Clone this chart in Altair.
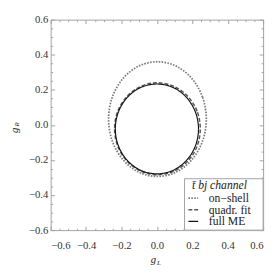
import altair as alt
import pandas as pd

# ---- data ----
series_names = ["on−shell", "quadr. fit", "full ME"]

onshell_gL = [0.279, 0.258, 0.198, 0.109, 0.003, -0.103, -0.192, -0.252,
              -0.273, -0.252, -0.192, -0.103, 0.003, 0.109, 0.198, 0.258]
onshell_gR = [0.033, 0.158, 0.264, 0.335, 0.360, 0.335, 0.264, 0.158,
              0.033, -0.092, -0.198, -0.269, -0.294, -0.269, -0.198, -0.092]

quadr_gL = [0.245, 0.227, 0.174, 0.096, 0.003, -0.090, -0.168, -0.221,
            -0.239, -0.221, -0.168, -0.090, 0.003, 0.096, 0.174, 0.227]
quadr_gR = [-0.022, 0.078, 0.163, 0.220, 0.240, 0.220, 0.163, 0.078,
            -0.022, -0.122, -0.207, -0.264, -0.284, -0.264, -0.207, -0.122]

full_gL = [0.235, 0.217, 0.166, 0.090, 0.000, -0.090, -0.166, -0.217,
           -0.235, -0.217, -0.166, -0.090, 0.000, 0.090, 0.166, 0.217]
full_gR = [-0.023, 0.075, 0.158, 0.214, 0.233, 0.214, 0.158, 0.075,
           -0.023, -0.121, -0.204, -0.260, -0.279, -0.260, -0.204, -0.121]

major_ticks = [-0.6, -0.4, -0.2, 0.0, 0.2, 0.4, 0.6]
minor_ticks = [-0.55, -0.5, -0.45, -0.35, -0.3, -0.25, -0.15, -0.1, -0.05,
               0.05, 0.1, 0.15, 0.25, 0.3, 0.35, 0.45, 0.5, 0.55]

rows = []
for name, xs_, ys_ in [(series_names[0], onshell_gL, onshell_gR),
                       (series_names[1], quadr_gL, quadr_gR),
                       (series_names[2], full_gL, full_gR)]:
    for i, (a, b) in enumerate(zip(xs_, ys_)):
        rows.append({"series": name, "style": name, "gL": a, "gR": b, "i": i})
df = pd.DataFrame(rows)

FONT = "Times New Roman, Liberation Serif, serif"
FRAME = "#a0a0a0"
dom = [-0.6, 0.6]

xs = alt.Scale(domain=dom, nice=False, zero=False)
ys = alt.Scale(domain=dom, nice=False, zero=False)

def ax(orient, values, size, labels, pad=4):
    kw = dict(orient=orient, values=values, tickSize=size, offset=-size,
              domain=False, grid=False, tickColor=FRAME, title=None,
              labels=labels)
    if labels:
        kw.update(format=".1f", labelFont=FONT, labelFontSize=11,
                  labelColor="#333333", labelPadding=pad)
    return alt.Axis(**kw)

leg = alt.Legend(zindex=2, title="t̄ bj channel")

curves = alt.Chart(df).mark_line(interpolate="cardinal-closed").encode(
    x=alt.X("gL:Q", scale=xs, axis=ax("bottom", major_ticks, 4, True, 10)),
    y=alt.Y("gR:Q", scale=ys, axis=ax("left", major_ticks, 4, True, 3)),
    color=alt.Color("series:N",
                    scale=alt.Scale(domain=series_names,
                                    range=["#7a7a7a", "#555555", "#151515"]),
                    sort=series_names, legend=leg),
    strokeDash=alt.StrokeDash("series:N",
                              scale=alt.Scale(domain=series_names,
                                              range=[[1.6, 1.4], [4, 2], [1, 0]]),
                              sort=series_names, legend=leg),
    strokeWidth=alt.StrokeWidth("style:N",
                                scale=alt.Scale(domain=series_names,
                                                range=[1.8, 1.2, 1.0]),
                                legend=None),
    detail="series:N",
    order="i:Q",
)

def tick_layer(xo, yo, vals, size):
    return alt.Chart(df).mark_point(opacity=0).encode(
        x=alt.X("gL:Q", scale=xs, axis=ax(xo, vals, size, False)),
        y=alt.Y("gR:Q", scale=ys, axis=ax(yo, vals, size, False)),
    )

lab = pd.DataFrame({"k": [0]})
def txt(s, x, y, size, angle=0):
    return alt.Chart(lab).mark_text(text=s, font=FONT, fontSize=size,
                                    fontStyle="italic", color="#222222",
                                    angle=angle).encode(
        x=alt.value(x), y=alt.value(y))

legend_box = alt.Chart(lab).mark_rect(fill="white", stroke=FRAME, strokeWidth=1).encode(
    x=alt.value(138), x2=alt.value(219), y=alt.value(164), y2=alt.value(217))

chart = alt.layer(
    legend_box,
    curves,
    tick_layer("bottom", "left", minor_ticks, 2),
    tick_layer("top", "right", major_ticks, 4),
    tick_layer("top", "right", minor_ticks, 2),
    txt("g", 106, 248, 11),
    txt("L", 111.5, 251, 7),
    txt("g", -37, 114, 11, 270),
    txt("R", -35, 108, 7, 270),
).resolve_axis(x="independent", y="independent").properties(
    width=219, height=217,
    autosize=alt.AutoSizeParams(type="none"),
    padding={"left": 44, "top": 8, "right": 4, "bottom": 34},
).configure_view(stroke=FRAME, strokeWidth=1).configure_legend(
    orient="none", legendX=139, legendY=164, padding=2,
    titleFont=FONT, titleFontSize=12, titleFontStyle="italic",
    titleFontWeight="normal", titleColor="#222222", titlePadding=0,
    titleAnchor="middle",
    labelFont=FONT, labelFontSize=12, labelColor="#222222",
    symbolType="stroke", symbolSize=100, symbolStrokeWidth=1.2,
    rowPadding=0, labelOffset=10,
)

chart.save("out.html", embed_options={"renderer": "svg", "actions": False})
